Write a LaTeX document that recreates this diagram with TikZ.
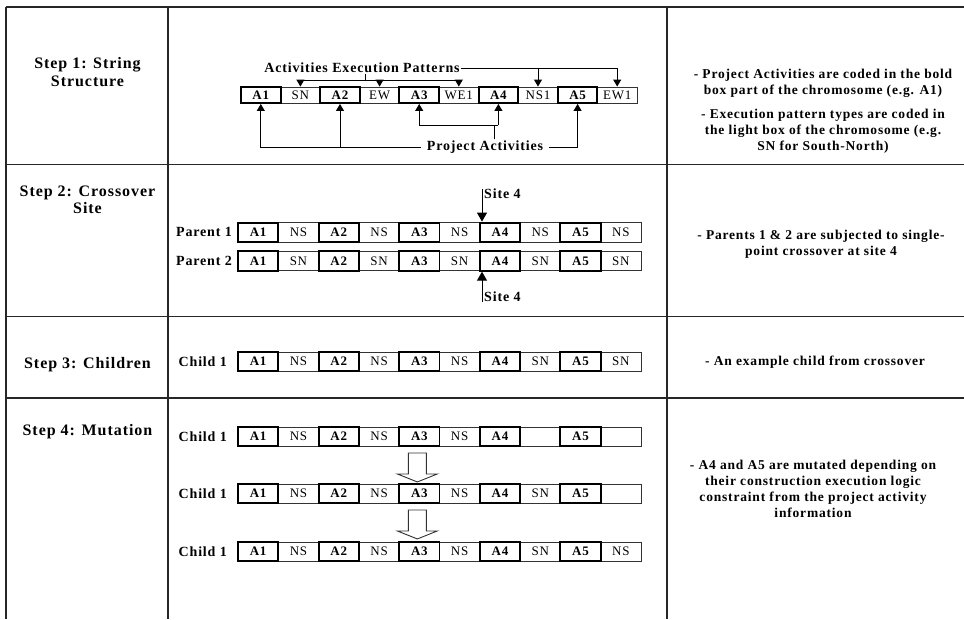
\documentclass[tikz,border=0pt]{standalone}
\usepackage{fontspec}
\setmainfont{Liberation Serif}
\newfontfamily\labfont{Liberation Serif}[LetterSpace=6]
\newfontfamily\txtfont{Liberation Serif}[LetterSpace=6]
\usetikzlibrary{arrows.meta,calc}
\tikzset{
  tline/.style={line width=1.3pt, black!85},
  steplab/.style={font=\labfont\bfseries\fontsize{16}{17.5}\selectfont, align=center, inner sep=0pt},
  desc/.style={font=\txtfont\bfseries\fontsize{13.5}{16}\selectfont, align=center, inner sep=0pt},
  midlab/.style={font=\txtfont\bfseries\fontsize{14}{16}\selectfont, inner sep=1pt},
  rowlab/.style={font=\txtfont\bfseries\fontsize{14}{16}\selectfont, inner sep=0pt, anchor=east},
  boldbox/.style={draw=black, line width=1.9pt, inner sep=0pt, font=\txtfont\bfseries\fontsize{13}{14}\selectfont},
  lightbox/.style={draw=black!80, line width=0.9pt, inner sep=0pt, font=\txtfont\fontsize{13}{14}\selectfont},
  conn/.style={line width=1pt, black},
  arr/.style={-{Triangle[length=7pt,width=8pt]}},
  bigarr/.style={-{Triangle[length=9pt,width=10pt]}},
  hollow/.style={line width=0.9pt, black!80, fill=white},
}
% #1 prefix, #2 left x, #3 centre y, #4 box width, #5 box height, #6 five light labels
\newcommand\chromrow[6]{%
  \foreach \t [count=\k] in {#6} {
    \node[lightbox, minimum width=#4pt, minimum height=#5pt] (#1-l\k) at ({#2+(2*\k-0.5)*#4}, #3) {\t};
  }
  \foreach \k in {1,...,5} {
    \node[boldbox, minimum width=#4pt, minimum height=#5pt] (#1-a\k) at ({#2+(2*\k-1.5)*#4}, #3) {A\k};
  }
}
\begin{document}
\begin{tikzpicture}[x=1pt, y=-1pt]
\useasboundingbox (0,0) rectangle (964,619);
\fill[white] (0,0) rectangle (964,619);

% table
\draw[tline] (6,7) -- (964,7);
\draw[tline] (6,164.5) -- (964,164.5);
\draw[tline] (6,316.5) -- (964,316.5);
\draw[tline] (6,398) -- (964,398);
\draw[tline, line width=2pt] (6,7) -- (6,619);
\draw[tline] (168,7) -- (168,619);
\draw[tline] (667,7) -- (667,619);

% left column labels
\node[steplab] (st1) at (87.5,72) {Step 1: String\\Structure};
\node[steplab] (st2) at (87.5,200) {Step 2: Crossover\\Site};
\node[steplab] (st3) at (87.5,365) {Step 3: Children};
\node[steplab] (st4) at (87.5,432) {Step 4: Mutation};

% right column texts
\node[desc] (d1a) at (823,83) {- Project Activities are coded in the bold\\box part of the chromosome (e.g. A1)};
\node[desc] (d1b) at (823,131) {- Execution pattern types are coded in\\the light box of the chromosome (e.g.\\SN for South-North)};
\node[desc] (d2) at (821,244) {- Parents 1 \& 2 are subjected to single-\\point crossover at site 4};
\node[desc] (d3) at (815,362) {- An example child from crossover};
\node[desc] (d4) at (813,489) {- A4 and A5 are mutated depending on\\their construction execution logic\\constraint from the project activity\\information};

% Step 1
\chromrow{s1}{241}{95}{39.6}{16}{SN,EW,WE1,NS1,EW1}
\node[midlab] (aep) at (362,68) {Activities Execution Patterns};
\coordinate (bus1) at (365,80);
\draw[conn] (aep.south -| bus1) -- (bus1);
\draw[conn] (bus1 -| s1-l1) -- (bus1 -| s1-l3);
\foreach \n in {l1,l2,l3} \draw[conn,arr] (bus1 -| s1-\n) -- (s1-\n.north);
\draw[conn,arr] (aep.east) -| (s1-l5.north);
\draw[conn,arr] (aep.east -| s1-l4) -- (s1-l4.north);

\node[midlab, inner xsep=6pt, inner ysep=1pt] (pa) at (485,147) {Project Activities};
\draw[conn,arr] (pa.west) -| (s1-a1.south);
\draw[conn,arr] (pa.west -| s1-a2) -- (s1-a2.south);
\draw[conn,arr] (pa.east) -| (s1-a5.south);
\coordinate (bus2) at (494,125);
\draw[conn] (pa.north -| bus2) -- (bus2);
\draw[conn] (bus2 -| s1-a3) -- (bus2 -| s1-a4);
\foreach \n in {a3,a4} \draw[conn,arr] (bus2 -| s1-\n) -- (s1-\n.south);

% Step 2
\chromrow{p1}{238}{232.3}{40.3}{19.5}{NS,NS,NS,NS,NS}
\chromrow{p2}{238}{261}{40.3}{19.5}{SN,SN,SN,SN,SN}
\node[rowlab] (pl1) at ([xshift=-5pt]p1-a1.west) {Parent 1};
\node[rowlab] (pl2) at ([xshift=-5pt]p2-a1.west) {Parent 2};
\node[midlab, anchor=west, inner sep=0pt] (s4a) at (484,194) {Site 4};
\coordinate (sa1) at ([xshift=-2pt]s4a.north west);
\draw[conn,bigarr] (sa1) -- (sa1 |- p1-a4.north);
\node[midlab, anchor=west, inner sep=0pt] (s4b) at (484,297) {Site 4};
\coordinate (sb1) at ([xshift=-2pt]s4b.south west);
\draw[conn,bigarr] (sb1) -- (sb1 |- p2-a4.south);

% Step 3
\chromrow{c1}{238}{361.5}{40.3}{19}{NS,NS,NS,SN,SN}
\node[rowlab] (cl1) at ([xshift=-10pt]c1-a1.west) {Child 1};

% Step 4
\chromrow{m1}{238}{436.5}{40.3}{19}{NS,NS,NS,{},{}}
\chromrow{m2}{238}{493.5}{40.3}{19}{NS,NS,NS,SN,{}}
\chromrow{m3}{238}{551.5}{40.3}{19}{NS,NS,NS,SN,NS}
\node[rowlab] (ml1) at ([xshift=-10pt]m1-a1.west) {Child 1};
\node[rowlab] (ml2) at ([xshift=-10pt]m2-a1.west) {Child 1};
\node[rowlab] (ml3) at ([xshift=-10pt]m3-a1.west) {Child 1};
\draw[hollow] ($(m1-a3.south)+(-11,6)$) -- ++(18,0) -- ++(0,21) -- ++(11,0) -- ++(-20,8) -- ++(-20,-8) -- ++(11,0) -- cycle;
\draw[hollow] ($(m2-a3.south)+(-11,6)$) -- ++(18,0) -- ++(0,21) -- ++(11,0) -- ++(-20,8) -- ++(-20,-8) -- ++(11,0) -- cycle;
\end{tikzpicture}
\end{document}
